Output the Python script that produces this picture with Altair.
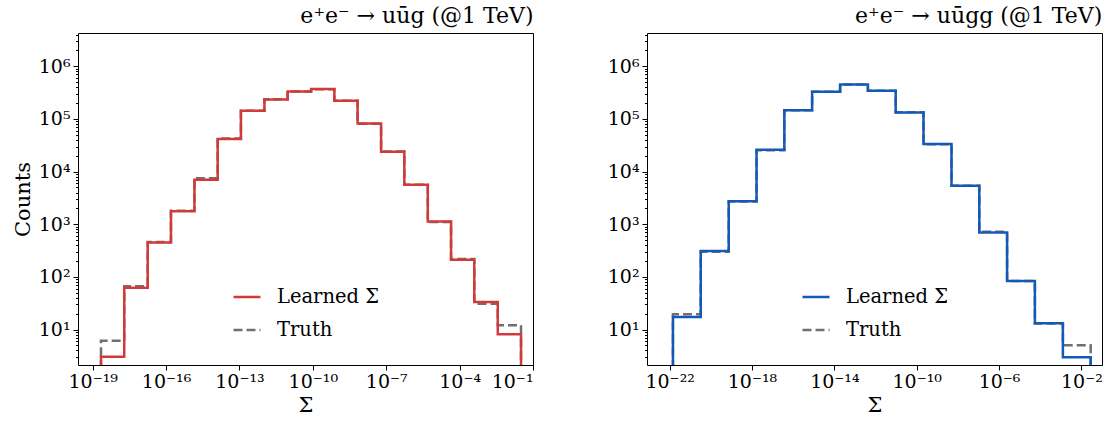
import altair as alt
import pandas as pd

FONT = "DejaVu Serif"
RED = "#d23a3a"
BLUE = "#1459b8"
GRAY = "#707070"

LEARNED = "Learned Σ"
TRUTH = "Truth"

# e+e- -> u ubar g : log10 bin edges and counts per bin
edges_uug = [-18.66, -17.71, -16.75, -15.80, -14.84, -13.89, -12.94, -11.98, -11.03,
             -10.07, -9.12, -8.17, -7.21, -6.26, -5.30, -4.35, -3.40, -2.44, -1.49]
learned_uug = [3.05, 62, 449, 1775, 6980, 41500, 143000, 235000, 333000,
               370000, 222000, 82000, 23800, 5610, 1125, 211, 33.5, 8.1]
truth_uug = [6.1, 66.5, 462, 1800, 7520, 42500, 144000, 236000, 332000,
             368000, 221000, 81000, 24000, 5650, 1110, 220, 31, 12.1]

# e+e- -> u ubar g g : log10 bin edges and counts per bin
edges_uugg = [-21.84, -20.49, -19.13, -17.78, -16.43, -15.08, -13.72, -12.37,
              -11.02, -9.67, -8.31, -6.96, -5.61, -4.26, -2.90, -1.55]
learned_uugg = [17.4, 312, 2750, 25900, 147000, 329000, 453000, 344000,
                133000, 33300, 5370, 695, 84, 13.2, 2.97]
truth_uugg = [19.5, 299, 2700, 25500, 146000, 330000, 450000, 342000,
              134000, 33000, 5400, 720, 84, 13.0, 5.03]

xticks_uug = [-19, -16, -13, -10, -7, -4, -1]
xticks_uugg = [-22, -18, -14, -10, -6, -2]
yticks = [1, 2, 3, 4, 5, 6]

x_domain_uug = [-19.6, -1.0]
x_domain_uugg = [-23.1, -1.0]
y_domain = [2.12, 4.3e6]

SUP = str.maketrans("0123456789-", "⁰¹²³⁴⁵⁶⁷⁸⁹⁻")


def power_label_expr(exps):
    expr = "''"
    for e in reversed(exps):
        expr = (f"abs(log(datum.value)/LN10 - ({e})) < 0.01 ? "
                f"'10{str(e).translate(SUP)}' : " + expr)
    return expr


def step_rows(edges, counts, series):
    # histogram outline: rises from below the axis at the first edge,
    # steps across every bin, and drops back down at the last edge
    floor = 1.0
    pts = [(10 ** edges[0], floor)]
    pts += [(10 ** e, c) for e, c in zip(edges[:-1], counts)]
    pts += [(10 ** edges[-1], counts[-1]), (10 ** edges[-1], floor)]
    return pd.DataFrame({"x": [p[0] for p in pts], "y": [p[1] for p in pts],
                         "i": list(range(len(pts))), "series": series})


minor_ticks = [m * 10 ** n for n in range(0, 7) for m in range(2, 10)
               if y_domain[0] <= m * 10 ** n <= y_domain[1]]


def panel(edges, learned, truth, color, title, x_dom, x_ticks, y_title):
    df = pd.concat([step_rows(edges, truth, TRUTH),
                    step_rows(edges, learned, LEARNED)])
    xs = alt.Scale(type="log", domain=[10 ** x_dom[0], 10 ** x_dom[1]], nice=False)
    ys = alt.Scale(type="log", domain=y_domain, nice=False)
    cs = alt.Scale(domain=[LEARNED, TRUTH], range=[color, GRAY])
    ds = alt.Scale(domain=[LEARNED, TRUTH], range=[[1, 0], [9, 4]])

    x_enc = alt.X("x:Q", scale=xs, title="Σ",
                  axis=alt.Axis(values=[10 ** e for e in x_ticks],
                                labelExpr=power_label_expr(x_ticks),
                                grid=False, domain=False, tickSize=5,
                                labelFontSize=19, titleFontSize=21,
                                labelPadding=2, titlePadding=3))
    legend = alt.Legend(title=None, orient="none", legendX=154, legendY=249,
                        symbolType="stroke", symbolSize=729,
                        symbolStrokeWidth=2.5, labelFontSize=19.5,
                        labelFont=FONT, rowPadding=8, labelOffset=15,
                        labelColor="black")
    color = alt.Color("series:N", scale=cs, legend=legend)
    dash = alt.StrokeDash("series:N", scale=ds, legend=legend)

    def layer(series, axis):
        return (alt.Chart(df)
                .transform_filter(alt.datum.series == series)
                .mark_line(interpolate="step-after", strokeWidth=2.5, clip=True)
                .encode(x=x_enc, y=alt.Y("y:Q", scale=ys, axis=axis),
                        color=color, strokeDash=dash, order="i:Q"))

    minor_axis = alt.Axis(values=minor_ticks, labels=False, tickSize=2.5,
                          grid=False, domain=False, title=None, orient="left")
    major_axis = alt.Axis(values=[10 ** e for e in yticks],
                          labelExpr=power_label_expr(yticks), grid=False,
                          domain=False, tickSize=5, labelFontSize=19,
                          titleFontSize=21, labelPadding=3, titlePadding=5,
                          title=y_title, orient="left")
    return (alt.layer(layer(TRUTH, minor_axis), layer(LEARNED, major_axis))
            .resolve_axis(y="independent")
            .properties(width=455, height=332,
                        title=alt.TitleParams(title, anchor="end", fontSize=22,
                                              font=FONT, fontWeight="normal",
                                              offset=5, color="black")))


left = panel(edges_uug, learned_uug, truth_uug, RED,
             "e⁺e⁻ → uūg (@1 TeV)", x_domain_uug, xticks_uug, "Counts")
right = panel(edges_uugg, learned_uugg, truth_uugg, BLUE,
              "e⁺e⁻ → uūgg (@1 TeV)", x_domain_uugg, xticks_uugg, None)

chart = (alt.hconcat(left, right, spacing=114, bounds="flush")
         .resolve_scale(color="independent", strokeDash="independent")
         .configure(font=FONT, padding={"left": 11, "top": 4, "right": 5, "bottom": 5})
         .configure_view(stroke="black", strokeWidth=1)
         .configure_axis(labelFont=FONT, titleFont=FONT, labelColor="black",
                         titleColor="black", tickColor="black", tickWidth=1,
                         titleFontWeight="normal"))

chart.save("out.html", embed_options={"renderer": "svg", "actions": False})
